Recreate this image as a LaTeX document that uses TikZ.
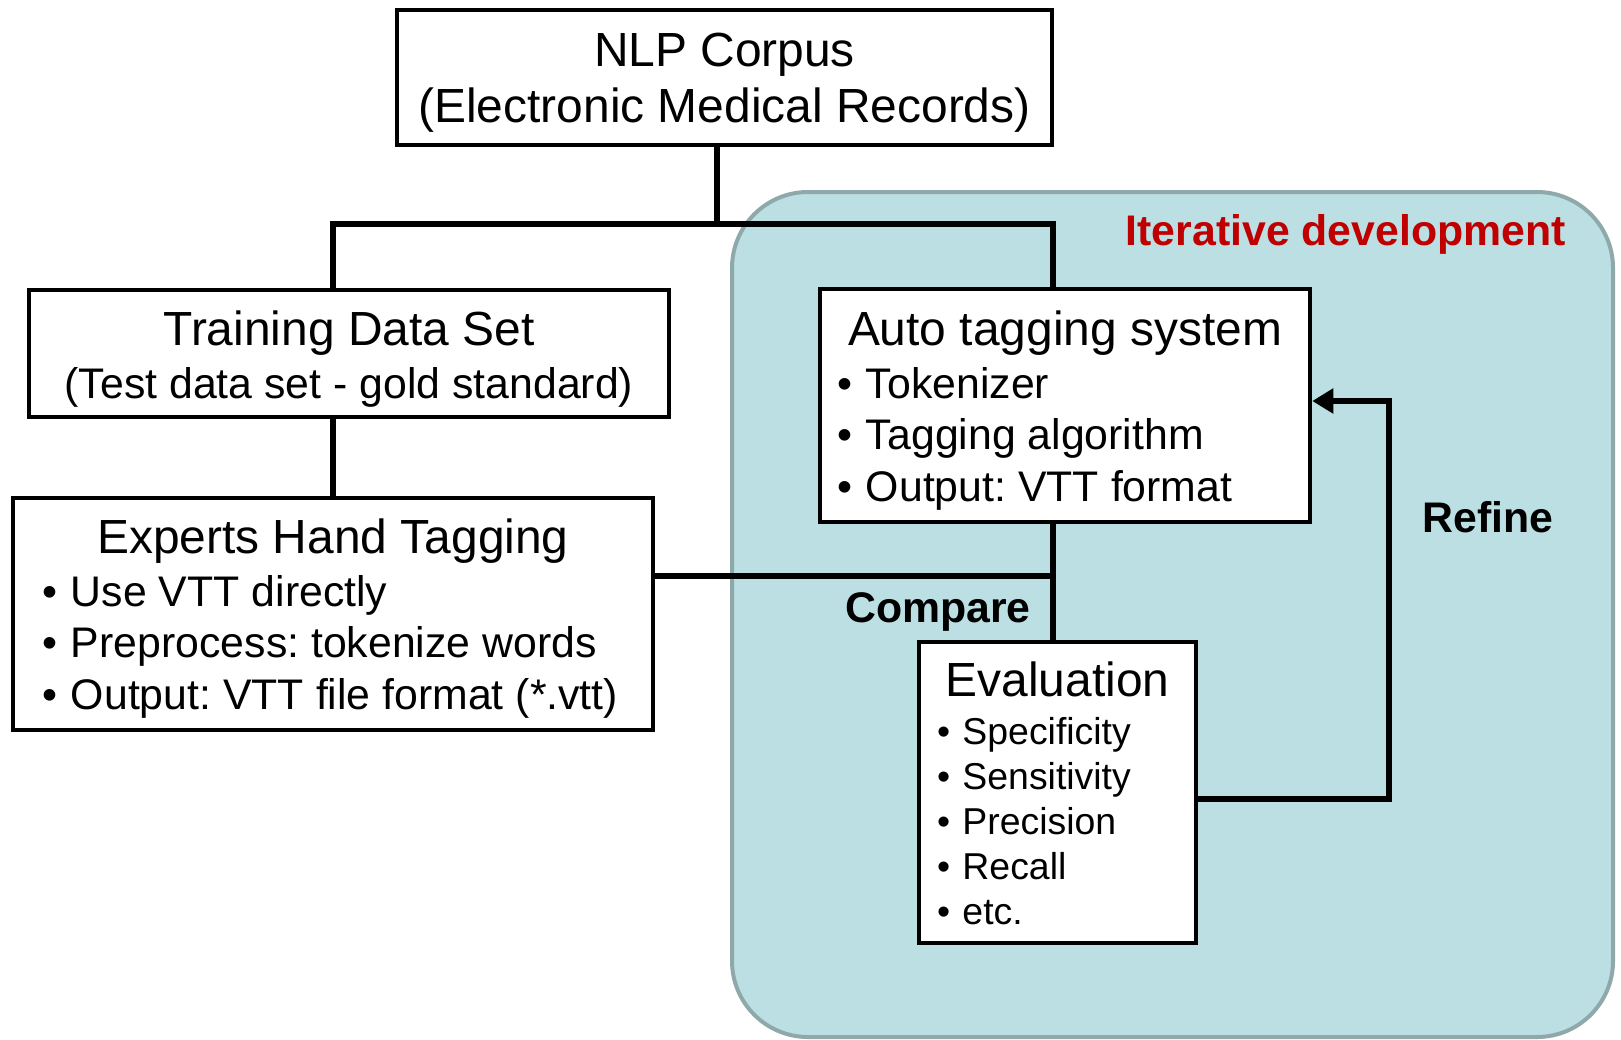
\documentclass[tikz,border=0pt]{standalone}
\usepackage{fontspec}
\setmainfont{Liberation Sans}
\usetikzlibrary{arrows.meta}
\definecolor{RegionFill}{HTML}{BBDFE2}
\definecolor{RegionLine}{HTML}{8FA9AB}
\definecolor{LabelRed}{HTML}{C00000}

\newcommand\bigfont{\fontsize{47.9}{56}\selectfont\spaceskip=0pt\xspaceskip=0pt\frenchspacing}
\newcommand\midfont{\fontsize{42.8}{51.5}\selectfont\spaceskip=0pt\xspaceskip=0pt\frenchspacing}
\newcommand\smallfont{\fontsize{37.4}{45}\selectfont\spaceskip=0pt\xspaceskip=0pt\frenchspacing}
\newcommand\boxline[1]{\makebox[\linewidth]{#1}}
\newcommand\boxtitle[1]{\boxline{\bigfont #1}}
\newcommand\bul{\makebox[29pt][l]{\textbullet}}
\newcommand\sbul{\makebox[25.5pt][l]{\textbullet}}

\tikzset{
  % Iterative development area
  region/.style={
    rectangle, draw=RegionLine, line width=4pt,
    fill=RegionFill, rounded corners=76pt,
    minimum width=881pt, minimum height=845pt,
    inner sep=0pt
  },
  % White text box
  textbox/.style={
    rectangle, draw=black, line width=4.5pt,
    fill=white, anchor=base, inner ysep=0pt,
    align=left
  },
  % Connector
  link/.style={
    line width=6.5pt, draw=black
  },
  % Bold label
  boldlabel/.style={
    font=\midfont\bfseries, inner sep=0pt
  }
}

\begin{document}
\begin{tikzpicture}[x=1pt, y=-1pt]

\useasboundingbox (0,0) rectangle (1621,1039);

% Background area
\node[region] (iter_region) at (1172.5,614.5) {};

% Boxes
\node[textbox, text width=635pt, inner xsep=10pt,
      text height=56.5pt, text depth=78.5pt] (nlp) at (724.5,66.5)
  {\bigfont\boxtitle{NLP Corpus}\\
   \boxtitle{(Electronic Medical Records)}\par};

\node[textbox, text width=620pt, inner xsep=10pt,
      text height=55.5pt, text depth=71.5pt] (train) at (349,345.5)
  {\boxtitle{Training Data Set}\\[1pt]
   \midfont\boxline{(Test data set - gold standard)}\par};

\node[textbox, text width=582pt, inner xsep=29pt,
      text height=55.5pt, text depth=176.5pt] (expert) at (333,553.5)
  {\boxtitle{Experts Hand Tagging}\\[1pt]
   \midfont\bul Use VTT directly\\
   \bul Preprocess: tokenize words\\
   \bul Output: VTT file format (*.vtt)\par};

\node[textbox, text width=456pt, inner xsep=17pt,
      text height=56.5pt, text depth=176.5pt] (auto) at (1065,345.5)
  {\boxtitle{Auto tagging system}\\[1pt]
   \midfont\bul Tokenizer\\
   \bul Tagging algorithm\\
   \bul Output: VTT format\par};

\node[textbox, text width=241pt, inner xsep=18pt,
      text height=54.5pt, text depth=246.5pt] (eval) at (1057.5,696.5)
  {\boxtitle{Evaluation}\\[2.5pt]
   \smallfont\sbul Specificity\\
   \sbul Sensitivity\\
   \sbul Precision\\
   \sbul Recall\\
   \sbul etc.\par};

% Junction points
\coordinate (split) at (717,224);
\coordinate (fork_l) at (333,224);
\coordinate (fork_r) at (1053,224);
\coordinate (cmp) at (1053,576);
\coordinate (refine_lo) at (1389,799);
\coordinate (refine_hi) at (1389,401);

% Connectors
\draw[link] (nlp.south -| split) -- (split);
\draw[link] (train.north -| fork_l) -- (fork_l) -- (fork_r) -- (auto.north -| fork_r);
\draw[link] (train.south -| fork_l) -- (expert.north -| fork_l);
\draw[link] (expert.east |- cmp) -- (cmp);
\draw[link] (auto.south -| cmp) -- (eval.north -| cmp);
\draw[link, -{Triangle[length=21pt,width=24pt]}]
  (eval.east |- refine_lo) -- (refine_lo) -- (refine_hi) -- (auto.east |- refine_hi);

% Labels
\node[boldlabel, text=LabelRed, anchor=base east] (iter_label) at (1566,245)
  {Iterative development};
\node[boldlabel, anchor=base east] (compare_label) at (1031,622) {Compare};
\node[boldlabel, anchor=base] (refine_label) at (1488,532) {Refine};

\end{tikzpicture}
\end{document}
